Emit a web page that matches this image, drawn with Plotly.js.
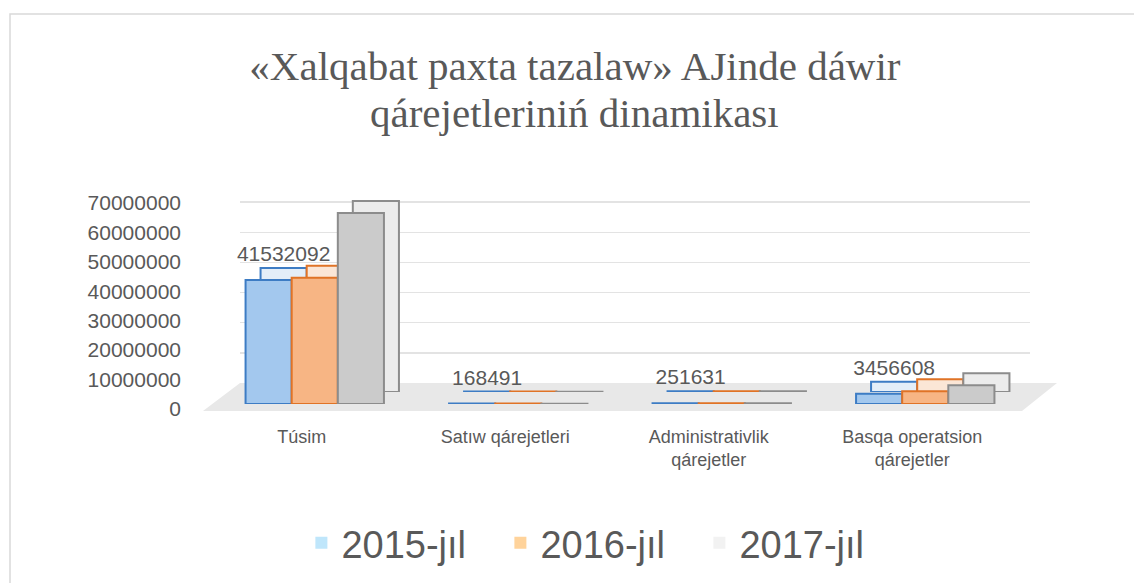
<!DOCTYPE html>
<html>
<head>
<meta charset="utf-8">
<script src="https://cdn.plot.ly/plotly-3.0.1.min.js"></script>
<style>html,body{margin:0;padding:0;background:#fff;}#chart{width:1134px;height:583px;}</style>
</head>
<body>
<div id="chart"></div>
<script>
// ---- data ----
const categories = ["Túsim", "Satıw qárejetleri", "Administrativlik<br>qárejetler", "Basqa operatsion<br>qárejetler"];
const years = ["2015-jıl", "2016-jıl", "2017-jıl"];
const values2015 = [41532092, 168491, 251631, 3456608];
const values2016 = [42300000, 130000, 290000, 4300000];
const values2017 = [64000000, 100000, 240000, 6300000];
const yTicks = [0, 10000000, 20000000, 30000000, 40000000, 50000000, 60000000, 70000000];
const labelled = [true, false, false];
const titleLine1 = "«Xalqabat paxta tazalaw» AJinde dáwir";
const titleLine2 = "qárejetleriniń dinamikası";

const series = [values2015, values2016, values2017];
const frontFill = ["#a3c8ee", "#f7b584", "#cbcbcb"];
const edge = ["#3d7cc4", "#e07326", "#8c8c8c"];
const backFill = ["#e4eef8", "#fbe6d6", "#ececec"];
const legendFill = ["#bfe6fb", "#ffd39b", "#f2f2f2"];

const W = 1134, H = 583;
const px = v => v / W;
const py = v => 1 - v / H;
const FONT = "Liberation Sans, Arial, sans-serif";
const SERIF = "Liberation Serif, Times New Roman, serif";

const traces = [];
// back-wall grid (first subplot, drawn first)
traces.push({type: "scatter", mode: "none", x: categories, y: values2017, xaxis: "x", yaxis: "y", showlegend: false, hoverinfo: "skip"});
// back faces (depth effect) with the data labels
series.forEach((vals, i) => {
  traces.push({
    type: "bar", x: categories, y: vals, name: years[i],
    xaxis: "x2", yaxis: "y2",
    marker: {color: backFill[i], line: {color: edge[i], width: 2}},
    text: labelled[i] ? vals.map(v => String(v)) : null,
    textposition: labelled[i] ? "outside" : "none",
    textangle: 0, constraintext: "none", cliponaxis: false,
    textfont: {family: FONT, size: 21, color: "#595959"},
    hoverinfo: "x+y+name", showlegend: false
  });
});
// front faces
series.forEach((vals, i) => {
  traces.push({
    type: "bar", x: categories, y: vals, name: years[i],
    xaxis: "x3", yaxis: "y3",
    marker: {color: frontFill[i], line: {color: edge[i], width: 2}},
    cliponaxis: false, showlegend: false, hoverinfo: "x+y+name"
  });
});
// legend entries (light swatches as in the original legend), zero-width so nothing is drawn in the plot
series.forEach((vals, i) => {
  traces.push({
    type: "bar", x: categories, y: vals, name: years[i],
    xaxis: "x3", yaxis: "y4", width: 0,
    marker: {color: legendFill[i], line: {color: "rgba(0,0,0,0)", width: 0}},
    showlegend: true, hoverinfo: "skip"
  });
});

const layout = {
  width: W, height: H,
  margin: {l: 0, r: 0, t: 0, b: 0},
  paper_bgcolor: "#ffffff", plot_bgcolor: "rgba(0,0,0,0)",
  barmode: "group", bargap: 0.32, bargroupgap: 0,
  showlegend: true,
  title: {
    text: titleLine1,
    font: {family: SERIF, size: 41, color: "#595959"},
    x: 0.507, xanchor: "center", y: py(66), yanchor: "middle"
  },
  annotations: [{
    text: titleLine2, xref: "paper", yref: "paper", x: 0.507, y: py(113),
    xanchor: "center", yanchor: "middle", showarrow: false,
    font: {family: SERIF, size: 41, color: "#595959"}
  }],
  legend: {
    orientation: "h", x: 0.529, xanchor: "center", y: py(543), yanchor: "middle",
    font: {family: FONT, size: 38, color: "#595959"},
    itemsizing: "constant", traceorder: "normal", itemwidth: 30,
    entrywidth: 154, entrywidthmode: "pixels"
  },
  xaxis: {
    domain: [px(240), px(1030)], anchor: "y",
    showgrid: false, zeroline: false, showticklabels: false, showline: false, ticks: "", fixedrange: true
  },
  yaxis: {
    domain: [py(383), py(172)], range: [0, 70000000], anchor: "x",
    tickvals: yTicks, showgrid: true, gridcolor: "#e3e3e3", gridwidth: 1.5,
    zeroline: false, showticklabels: false, showline: false, fixedrange: true
  },
  xaxis2: {
    domain: [px(228), px(1042)], anchor: "y2",
    showgrid: false, zeroline: false, showticklabels: false, showline: false, ticks: "", fixedrange: true
  },
  yaxis2: {
    domain: [py(392), py(183)], range: [0, 70000000], anchor: "x2",
    showgrid: false, zeroline: false, showticklabels: false, showline: false, fixedrange: true
  },
  xaxis3: {
    domain: [px(213), px(1027)], anchor: "y3",
    showgrid: false, zeroline: false, showline: false, ticks: "",
    tickfont: {family: FONT, size: 18, color: "#595959"},
    ticklabelshift: -13, ticklabelstandoff: 20, fixedrange: true
  },
  yaxis3: {
    domain: [py(404), py(195)], range: [0, 70000000], anchor: "x3",
    showgrid: false, zeroline: false, showticklabels: false, showline: false, fixedrange: true
  },
  yaxis4: {
    domain: [py(409), py(203)], range: [0, 70000000], anchor: "free", position: px(181), side: "left",
    tickvals: yTicks, ticktext: yTicks.map(v => String(v)),
    showgrid: false, zeroline: false, showline: false, ticks: "",
    tickfont: {family: FONT, size: 21, color: "#595959"}, fixedrange: true
  },
  shapes: [
    {type: "rect", xref: "paper", yref: "paper", x0: px(10), x1: 1.02, y0: -0.02, y1: py(14),
     line: {color: "#d9d9d9", width: 1.5}, fillcolor: "rgba(0,0,0,0)", layer: "below"},
    {type: "path", xref: "paper", yref: "paper", layer: "below",
     path: `M ${px(203)},${py(411)} L ${px(240)},${py(383)} L ${px(1057)},${py(383)} L ${px(1022)},${py(411)} Z`,
     fillcolor: "#e8e8e8", line: {width: 0}}
  ]
};

Plotly.newPlot("chart", traces, layout, {displayModeBar: false, staticPlot: true});
</script>
</body>
</html>
